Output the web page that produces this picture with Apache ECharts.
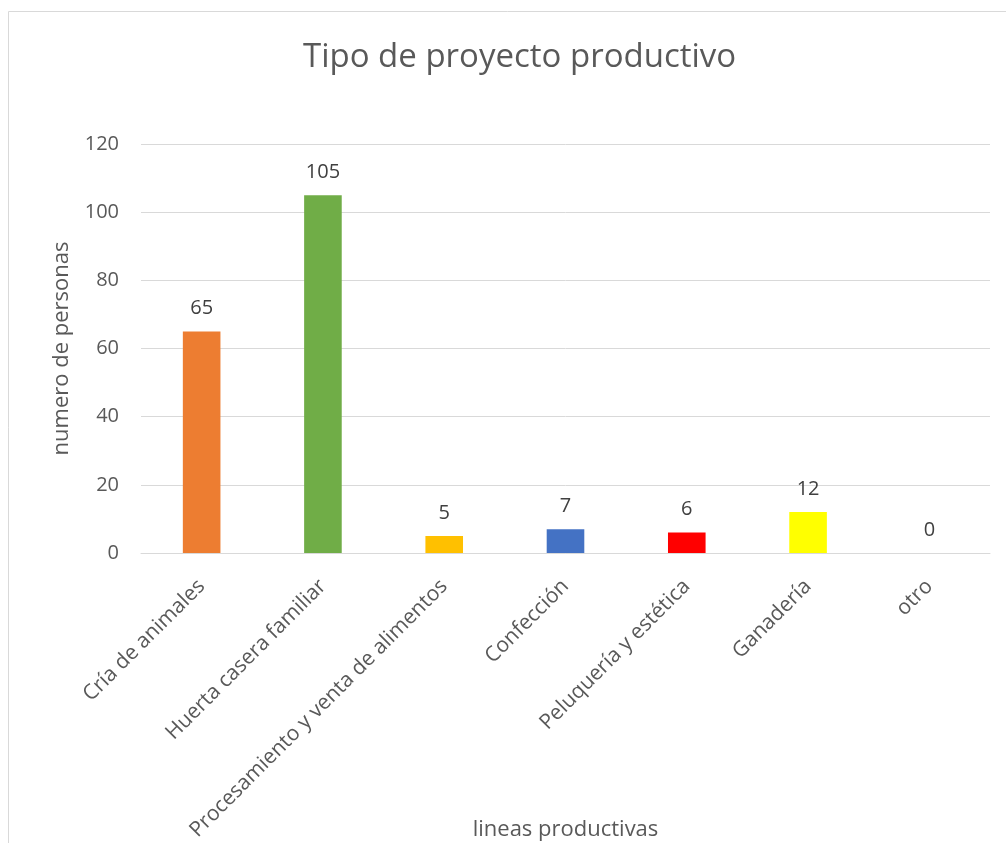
<!DOCTYPE html>
<html><head><meta charset="utf-8">
<script src="https://cdn.jsdelivr.net/npm/echarts@6/dist/echarts.min.js"></script>
<style>html,body{margin:0;padding:0;background:#fff}#c{width:1006px;height:843px}</style>
</head><body><div id="c"></div>
<script>
const categories = ['Cría de animales','Huerta casera familiar','Procesamiento y venta de alimentos','Confección','Peluquería y estética','Ganadería','otro'];
const values = [65,105,5,7,6,12,0];
const barColors = ['#ED7D31','#70AD47','#FFC000','#4472C4','#FF0000','#FFFF00','#A5A5A5'];
const yTicks = [0,20,40,60,80,100,120];
const font = 'Open Sans';
const chart = echarts.init(document.getElementById('c'));
chart.setOption({
  animation:false,
  textStyle:{fontFamily:font},
  title:{text:'Tipo de proyecto productivo',left:298,top:36,textStyle:{fontFamily:font,fontSize:33,fontWeight:'normal',color:'#595959'}},
  graphic:[{type:'rect',shape:{x:8.5,y:11.5,width:1200,height:1200},style:{fill:'none',stroke:'#d9d9d9',lineWidth:1}}],
  grid:{left:141,right:16,top:144,bottom:290,containLabel:false,outerBoundsMode:'none'},
  xAxis:{type:'category',data:categories,
    name:'lineas productivas',nameLocation:'middle',nameGap:266,nameMoveOverlap:false,
    nameTextStyle:{fontFamily:font,fontSize:22,color:'#595959'},
    axisLine:{lineStyle:{color:'#d9d9d9',width:1}},axisTick:{show:false},
    axisLabel:{rotate:45,interval:0,fontSize:21,color:'#595959',margin:30}},
  yAxis:{type:'value',min:yTicks[0],max:yTicks[yTicks.length-1],interval:20,
    name:'numero de personas',nameLocation:'middle',nameGap:68,nameMoveOverlap:false,
    nameTextStyle:{fontFamily:font,fontSize:22,color:'#595959'},
    axisLine:{show:false},axisTick:{show:false},
    axisLabel:{fontSize:20,color:'#595959',margin:22},
    splitLine:{lineStyle:{color:'#d9d9d9',width:1}}},
  series:[{type:'bar',barWidth:'31%',
    data:values.map((v,i)=>({value:v,itemStyle:{color:barColors[i]}})),
    label:{show:true,position:'top',distance:13,fontSize:20,color:'#404040',fontFamily:font}}]
});
</script></body></html>
